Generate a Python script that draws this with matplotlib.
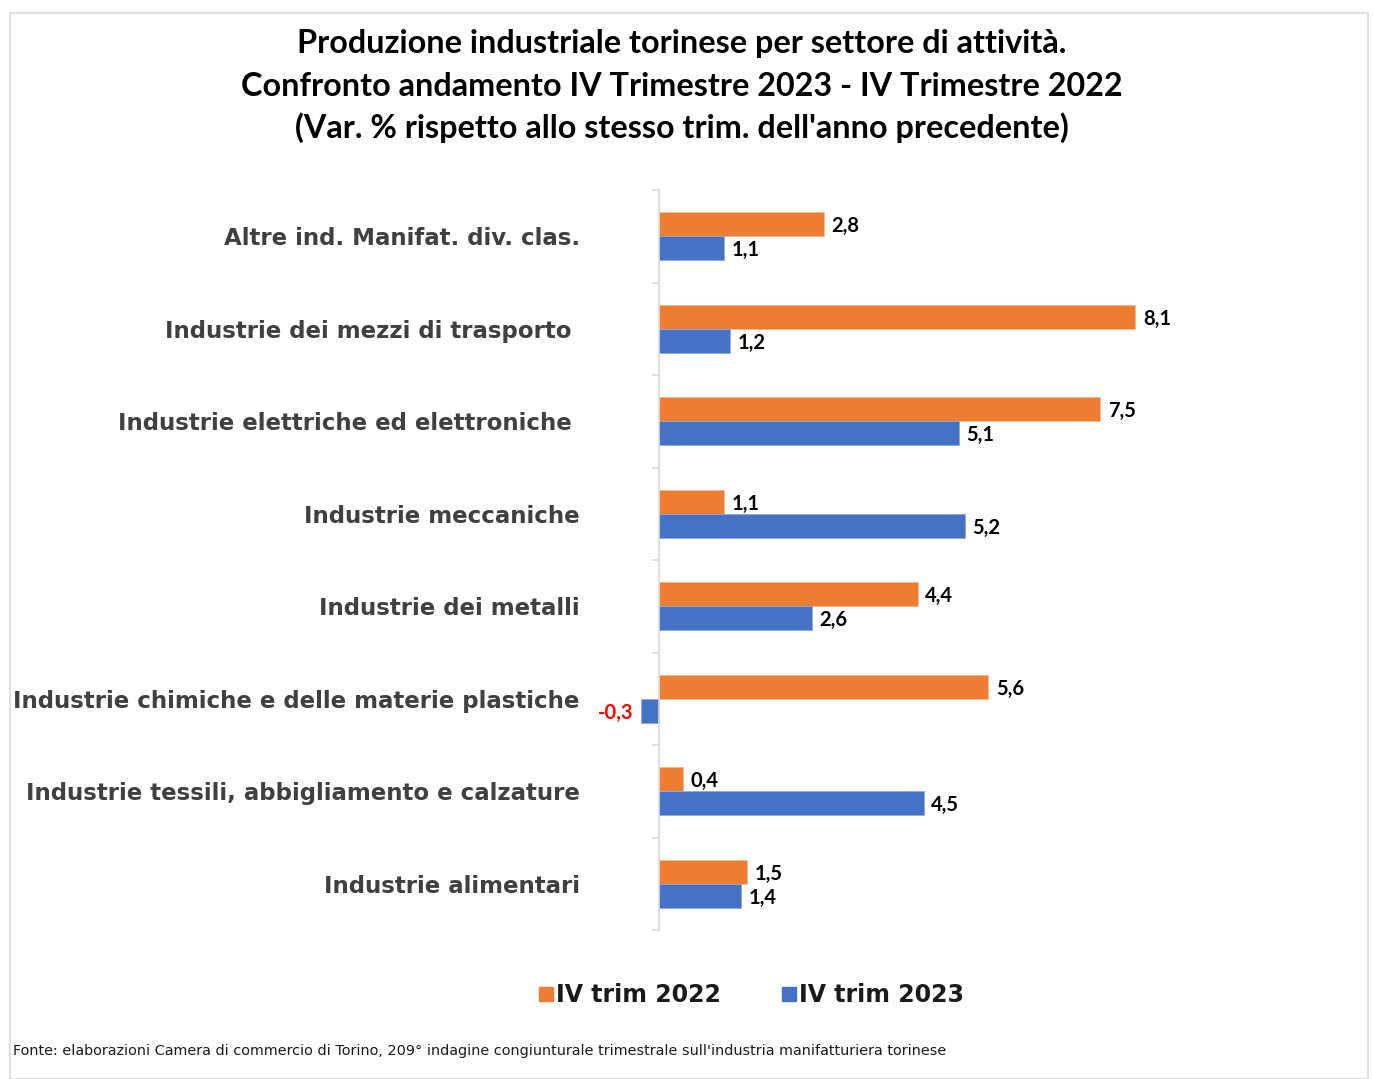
import matplotlib
matplotlib.use("Agg")
import matplotlib.pyplot as plt
from matplotlib.patches import Rectangle
from matplotlib.lines import Line2D
import numpy as np

categories = [
    "Altre ind. Manifat. div. clas.",
    "Industrie dei mezzi di trasporto ",
    "Industrie elettriche ed elettroniche ",
    "Industrie meccaniche",
    "Industrie dei metalli",
    "Industrie chimiche e delle materie plastiche",
    "Industrie tessili, abbigliamento e calzature",
    "Industrie alimentari",
]
series_names = ["IV trim 2022", "IV trim 2023"]
values_2022 = [2.8, 8.1, 7.5, 1.1, 4.4, 5.6, 0.4, 1.5]
values_2023 = [1.1, 1.2, 5.1, 5.2, 2.6, -0.3, 4.5, 1.4]

ORANGE = "#ED7D31"
BLUE = "#4472C4"
W, H = 1373, 1079
fig = plt.figure(figsize=(W / 100, H / 100), dpi=100)

# border
fig.add_artist(Rectangle((10 / W, 0), (1368 - 10) / W, 1 - 13 / H, transform=fig.transFigure,
                         fill=False, edgecolor="#d9d9d9", linewidth=1.2))

# axes: zero at x=659px, scale ~58.8 px/unit
xmin, xmax = -1.0, 10.0
ppu = 58.8
left_px = 659 + xmin * ppu
width_px = (xmax - xmin) * ppu
ax = fig.add_axes([left_px / W, 1 - 930 / H, width_px / W, (930 - 190) / H])
ax.set_xlim(xmin, xmax)
n = len(categories)
ax.set_ylim(n - 0.5, -0.5)

y = np.arange(n)
bh = 0.26
ax.barh(y - bh / 2, values_2022, height=bh, color=ORANGE, edgecolor="#f5b98f", linewidth=0.6, label=series_names[0])
ax.barh(y + bh / 2, values_2023, height=bh, color=BLUE, edgecolor="#8fa9db", linewidth=0.6, label=series_names[1])

lab_font = dict(family="Lato", weight="bold", size=14.5)
for vals, off in ((values_2022, -bh / 2), (values_2023, bh / 2)):
    for i, v in enumerate(vals):
        txt = f"{v:.1f}".replace(".", ",")
        if v >= 0:
            ax.annotate(txt, (v, i + off), xytext=(5.5, -1.5), textcoords="offset points",
                        ha="left", va="center", color="black", **lab_font)
        else:
            ax.annotate(txt, (v, i + off), xytext=(-5.5, -1.5), textcoords="offset points",
                        ha="right", va="center", color="red", **lab_font)

for s in ("top", "right", "bottom"):
    ax.spines[s].set_visible(False)
ax.spines["left"].set_position(("data", 0))
ax.spines["left"].set_color("#d9d9d9")
ax.spines["left"].set_linewidth(1.2)
ax.set_xticks([])
ax.set_yticks(y)
ax.set_yticklabels(categories, fontsize=16.5, fontweight="bold", color="#404040", family="DejaVu Sans")
ax.tick_params(axis="y", which="major", length=0, pad=57)
ax.set_yticks(np.arange(n + 1) - 0.5, minor=True)
ax.tick_params(axis="y", which="minor", length=5, width=1.2, color="#d9d9d9", direction="out")

# title
title_lines = [
    "Produzione industriale torinese per settore di attività.",
    "Confronto andamento IV Trimestre 2023 - IV Trimestre 2022",
    "(Var. % rispetto allo stesso trim. dell'anno precedente)",
]
for k, line in enumerate(title_lines):
    fig.text(682 / W, 1 - (44 + 42 * k) / H, line, ha="center", va="center",
             family="Lato", weight="bold", fontsize=23.3, color="black")

# legend
handles = [Line2D([], [], marker="s", linestyle="none", markersize=9.5, color=ORANGE),
           Line2D([], [], marker="s", linestyle="none", markersize=9.5, color=BLUE)]
fig.legend(handles, series_names, loc="center", bbox_to_anchor=(752 / W, 1 - 995 / H), ncol=2,
           frameon=False, prop=dict(family="DejaVu Sans", weight="bold", size=17),
           handlelength=0.55, handletextpad=0.15, columnspacing=2.6, labelcolor="#1a1a1a")

fig.text(13 / W, 1 - 1051 / H,
         "Fonte: elaborazioni Camera di commercio di Torino, 209° indagine congiunturale trimestrale sull'industria manifatturiera torinese",
         ha="left", va="center", family="DejaVu Sans", fontsize=10.33, color="#1a1a1a")

fig.savefig("out.png", dpi=100)
